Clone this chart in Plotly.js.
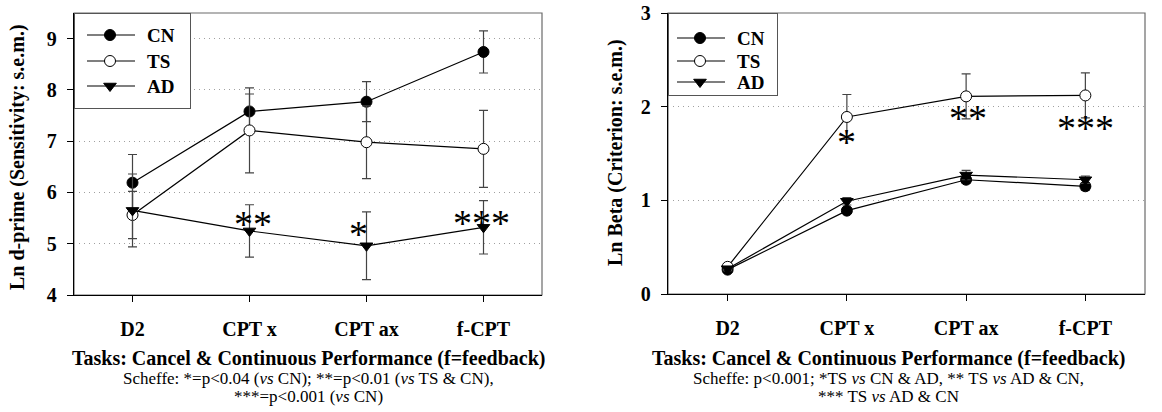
<!DOCTYPE html>
<html>
<head>
<meta charset="utf-8">
<script src="https://cdn.plot.ly/plotly-3.0.1.min.js"></script>
<style>html,body{margin:0;padding:0;background:#fff;}#chart{width:1162px;height:412px;}</style>
</head>
<body>
<div id="chart"></div>
<script>
// ---- data ----
const tasks = ['D2', 'CPT x', 'CPT ax', 'f-CPT'];
const groups = ['CN', 'TS', 'AD'];

const dprimeCN = [6.19, 7.58, 7.77, 8.74];
const dprimeCNErr = [0.55, 0.34, 0.39, 0.41];
const dprimeTS = [5.56, 7.21, 6.98, 6.85];
const dprimeTSErr = [0.46, 0.83, 0.71, 0.75];
const dprimeAD = [5.65, 5.25, 4.96, 5.32];
const dprimeADErr = [0.71, 0.51, 0.66, 0.52];

const betaCN = [0.26, 0.89, 1.22, 1.15];
const betaCNErr = [0.03, 0.03, 0.04, 0.04];
const betaTS = [0.29, 1.89, 2.11, 2.12];
const betaTSErr = [0.02, 0.24, 0.24, 0.24];
const betaAD = [0.27, 0.99, 1.27, 1.22];
const betaADErr = [0.02, 0.04, 0.05, 0.04];

const dprimeStarText = ['**', '*', '***'];
const dprimeStarTask = ['CPT x', 'CPT ax', 'f-CPT'];
const dprimeStarY = [5.46, 5.27, 5.48];
const betaStarText = ['*', '**', '***'];
const betaStarTask = ['CPT x', 'CPT ax', 'f-CPT'];
const betaStarY = [1.665, 1.92, 1.815];

const dprimeTicks = [4, 5, 6, 7, 8, 9];
const betaTicks = [0, 1, 2, 3];

const leftYTitle = 'Ln d-prime (Sensitivity: s.e.m.)';
const rightYTitle = 'Ln Beta (Criterion: s.e.m.)';
const xTitle = 'Tasks: Cancel &amp; Continuous Performance (f=feedback)';
const leftNote = ['Scheffe: *=p&lt;0.04 (<i>vs</i> CN); **=p&lt;0.01 (<i>vs</i> TS &amp; CN),', '***=p&lt;0.001 (<i>vs</i> CN)'];
const rightNote = ['Scheffe: p&lt;0.001; *TS <i>vs</i> CN &amp; AD, ** TS <i>vs</i> AD &amp; CN,', '*** TS <i>vs</i> AD &amp; CN'];

// ---- styling ----
const W = 1162, H = 412;
const serif = 'Liberation Serif, Times New Roman, serif';
const markerStyle = {
  CN: {symbol: 'circle', color: '#000', size: 11, line: {color: '#000', width: 1}},
  TS: {symbol: 'circle', color: '#fff', size: 11, line: {color: '#000', width: 1}},
  AD: {symbol: 'triangle-down', color: '#000', size: 11, line: {color: '#000', width: 1}}
};

function mk(y, err, name, xa, ya, legend) {
  return {
    type: 'scatter', mode: 'lines+markers', x: tasks, y: y, name: name,
    xaxis: xa, yaxis: ya, legend: legend, showlegend: true,
    line: {color: '#000', width: 1.2},
    marker: markerStyle[name],
    error_y: {type: 'data', array: err, visible: true, color: '#444', thickness: 1.2, width: 4.5},
    cliponaxis: false
  };
}

const data = [
  mk(dprimeCN, dprimeCNErr, groups[0], 'x', 'y', 'legend'),
  mk(dprimeTS, dprimeTSErr, groups[1], 'x', 'y', 'legend'),
  mk(dprimeAD, dprimeADErr, groups[2], 'x', 'y', 'legend'),
  mk(betaCN, betaCNErr, groups[0], 'x2', 'y2', 'legend2'),
  mk(betaTS, betaTSErr, groups[1], 'x2', 'y2', 'legend2'),
  mk(betaAD, betaADErr, groups[2], 'x2', 'y2', 'legend2')
];

const leftDom = [74 / W, 542 / W];
const rightDom = [668 / W, 1145 / W];
const yDomL = [1 - 295 / H, 1 - 13 / H];
const yDomR = [1 - 294 / H, 1 - 13 / H];

const tickFont = {family: serif, size: 20, color: '#000', weight: 'bold'};

function xaxisCfg(dom, anchor) {
  return {
    domain: dom, anchor: anchor, type: 'category', range: [-0.5, 3.5],
    showline: true, linecolor: '#000', linewidth: 1.3,
    ticks: 'outside', ticklen: 6, tickcolor: '#000', tickwidth: 1,
    showgrid: false, zeroline: false, tickfont: tickFont, ticklabelstandoff: 10,
    fixedrange: true
  };
}
function yaxisCfg(dom, anchor, range, ticks) {
  return {
    domain: dom, anchor: anchor, range: range, tickvals: ticks,
    showline: true, linecolor: '#000', linewidth: 1.3,
    ticks: 'outside', ticklen: 6, tickcolor: '#000', tickwidth: 1,
    showgrid: true, gridcolor: '#a0a0a0', griddash: '1px,4px', gridwidth: 1,
    zeroline: false, tickfont: tickFont, ticklabelstandoff: 6,
    fixedrange: true
  };
}

const annotations = [];
const starFont = {family: serif, size: 38, color: '#000'};
dprimeStarText.forEach((t, i) => annotations.push({
  xref: 'x', yref: 'y', x: dprimeStarTask[i], y: dprimeStarY[i], text: t,
  showarrow: false, font: starFont, xanchor: 'center', yanchor: 'middle',
  xshift: t === '*' ? -8 : (t === '**' ? 3 : -2), yshift: -4
}));
betaStarText.forEach((t, i) => annotations.push({
  xref: 'x2', yref: 'y2', x: betaStarTask[i], y: betaStarY[i], text: t,
  showarrow: false, font: starFont, xanchor: 'center', yanchor: 'middle',
  xshift: t === '**' ? 2 : 0, yshift: -4
}));
// axis titles
const yTitleFont = {family: serif, size: 20, color: '#000', weight: 'bold'};
annotations.push({xref: 'paper', yref: 'paper', x: 18 / W, y: 1 - 157 / H, text: leftYTitle, textangle: -90,
  showarrow: false, font: yTitleFont, xanchor: 'center', yanchor: 'middle'});
annotations.push({xref: 'paper', yref: 'paper', x: 616 / W, y: 1 - 153 / H, text: rightYTitle, textangle: -90,
  showarrow: false, font: yTitleFont, xanchor: 'center', yanchor: 'middle'});
// x titles and notes
[[308, leftNote], [888, rightNote]].forEach(([cx, note]) => {
  annotations.push({xref: 'paper', yref: 'paper', x: cx / W, y: 1 - 358 / H, text: xTitle,
    showarrow: false, font: {family: serif, size: 20, color: '#000', weight: 'bold'}, xanchor: 'center', yanchor: 'middle'});
  note.forEach((line, k) => annotations.push({xref: 'paper', yref: 'paper', x: cx / W, y: 1 - (378 + 18 * k) / H, text: line,
    showarrow: false, font: {family: serif, size: 17, color: '#000'}, xanchor: 'center', yanchor: 'middle'}));
});

const frame = (xr, yr) => ({type: 'rect', xref: xr + ' domain', yref: yr + ' domain', x0: 0, x1: 1, y0: 0, y1: 1,
  line: {color: '#6a6a6a', width: 1.2}, layer: 'below'});

const layout = {
  width: W, height: H, margin: {l: 0, r: 0, t: 0, b: 0},
  paper_bgcolor: '#fff', plot_bgcolor: '#fff',
  xaxis: xaxisCfg(leftDom, 'y'), yaxis: yaxisCfg(yDomL, 'x', [4, 9.5], dprimeTicks),
  xaxis2: xaxisCfg(rightDom, 'y2'), yaxis2: yaxisCfg(yDomR, 'x2', [0, 3], betaTicks),
  legend: {x: leftDom[0], y: yDomL[1], xanchor: 'left', yanchor: 'top', bgcolor: '#fff',
    bordercolor: '#555', borderwidth: 1.2, font: {family: serif, size: 19, color: '#000', weight: 'bold'},
    itemwidth: 63, tracegroupgap: 0},
  legend2: {x: rightDom[0], y: yDomR[1], xanchor: 'left', yanchor: 'top', bgcolor: '#fff',
    bordercolor: '#555', borderwidth: 1.2, font: {family: serif, size: 19, color: '#000', weight: 'bold'},
    itemwidth: 59, tracegroupgap: 0},
  shapes: [frame('x', 'y'), frame('x2', 'y2')],
  annotations: annotations
};

// legend sample geometry (pixels inside each legend box)
const legendGeom = {
  legend: {w: 116, h: 95, rows: [22, 48, 73], x0: 13, len: 48, mx: 36, tx: 73},
  legend2: {w: 109, h: 82, rows: [25, 48, 69], x0: 9, len: 48, mx: 32, tx: 69}
};

function tweakLegends(gd) {
  Object.keys(legendGeom).forEach(id => {
    const g = legendGeom[id];
    const lg = gd.querySelector('g.' + id);
    if (!lg) return;
    const bg = lg.querySelector('rect.bg');
    if (bg) { bg.setAttribute('width', g.w); bg.setAttribute('height', g.h); }
    const sb = lg.querySelector('g.scrollbox');
    if (sb) {
      const cp = sb.getAttribute('clip-path');
      const m = cp && cp.match(/#([^)'"]+)/);
      if (m) {
        const c = document.getElementById(m[1]);
        const r = c && c.querySelector('rect');
        if (r) { r.setAttribute('width', g.w); r.setAttribute('height', g.h); }
      }
      sb.setAttribute('transform', 'translate(0,0)');
    }
    lg.querySelectorAll('g.traces').forEach((t, i) => {
      t.setAttribute('transform', `translate(0,${g.rows[i]})`);
      const ln = t.querySelector('path.js-line');
      if (ln) ln.setAttribute('d', `M${g.x0},0h${g.len}`);
      const pt = t.querySelector('path.scatterpts');
      if (pt) pt.setAttribute('transform', `translate(${g.mx},0)`);
      const tx = t.querySelector('text.legendtext');
      if (tx) tx.setAttribute('x', g.tx);
    });
  });
}

Plotly.newPlot('chart', data, layout, {displayModeBar: false, staticPlot: true}).then(tweakLegends);
</script>
</body>
</html>
